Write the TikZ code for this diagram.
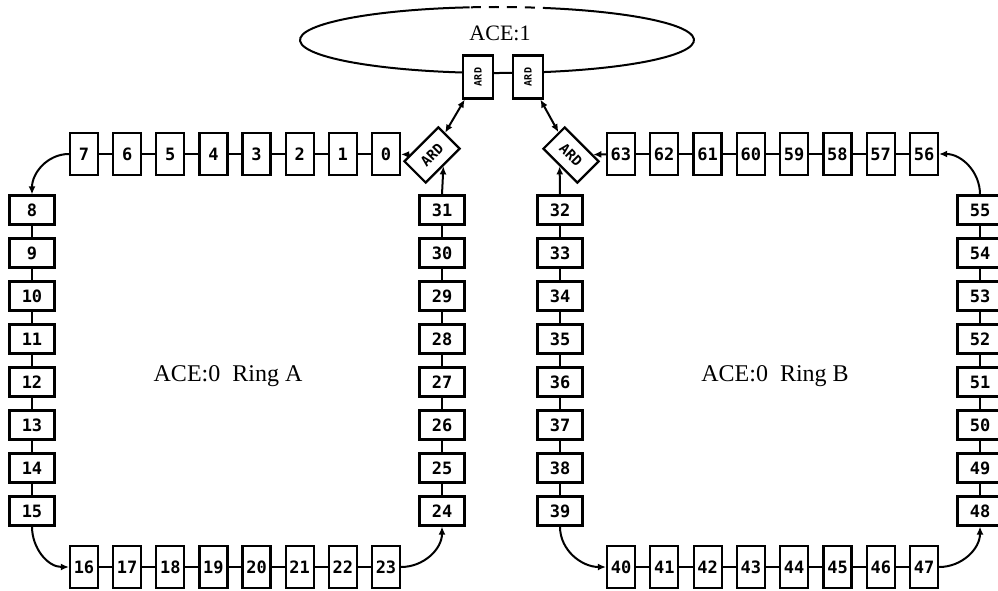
\documentclass[tikz,border=0pt]{standalone}
\usepackage{fontspec}
\setmainfont{Liberation Serif}
\setmonofont{DejaVu Sans Mono}
\usetikzlibrary{arrows.meta,calc}
\tikzset{
  ace/hbox/.style={
    draw,
    line width=2.2pt,
    fill=white,
    inner sep=0pt,
    minimum width=28pt,
    minimum height=42pt,
    font=\ttfamily\bfseries\fontsize{17}{17}\selectfont
  },
  ace/vbox/.style={
    draw,
    line width=2.2pt,
    fill=white,
    inner sep=0pt,
    minimum width=45pt,
    minimum height=29pt,
    font=\ttfamily\bfseries\fontsize{17}{17}\selectfont
  },
  ace/ard/.style={
    draw,
    line width=2.2pt,
    fill=white,
    inner sep=0pt,
    rotate=90,
    minimum width=43pt,
    minimum height=30pt,
    font=\ttfamily\bfseries\fontsize{10}{10}\selectfont
  },
  ace/diamond/.style={
    draw,
    line width=2.2pt,
    fill=white,
    inner sep=0pt,
    minimum width=48pt,
    minimum height=30pt,
    font=\ttfamily\bfseries\fontsize{14}{14}\selectfont
  },
  ace/link/.style={line width=2pt},
  ace/arrow/.style={-{Latex[length=8pt,width=7pt]}, line width=2pt},
  ace/dblarrow/.style={{Latex[length=8pt,width=7pt]}-{Latex[length=8pt,width=7pt]}, line width=2pt},
  ace/title/.style={font=\fontsize{22}{22}\selectfont}
}

\begin{document}
\begin{tikzpicture}[x=1pt,y=1pt]
  \useasboundingbox (0,-591) rectangle (998,0);
  % ACE:1 ring
  \draw[ace/link] (497,-40) ++(98:197 and 33)
    arc[start angle=98, end angle=433.5, x radius=197, y radius=33];
  \draw[ace/link, dash pattern=on 10pt off 8pt] (497,-40) ++(73.5:197 and 33)
    arc[start angle=73.5, end angle=98, x radius=197, y radius=33];
  \node[ace/title] (ace1) at (500,-33) {ACE:1};
  \node[ace/ard] (aceL) at (478,-77) {ARD};
  \node[ace/ard] (aceR) at (528,-77) {ARD};

  % ring A
  \foreach \i in {0,...,7}
  {\node[ace/hbox] (n\i) at ({386-43.14*\i},-154) {\i};}
  \foreach \i in {8,...,15}
  {\node[ace/vbox] (n\i) at (32,{-210-43*(\i-8)}) {\i};}
  \foreach \i in {16,...,23}
  {\node[ace/hbox] (n\i) at ({84+43.14*(\i-16)},-567) {\i};}
  \foreach \i in {24,...,31}
  {\node[ace/vbox] (n\i) at (442,{-511+43*(\i-24)}) {\i};}

  % ring B
  \foreach \i in {32,...,39}
  {\node[ace/vbox] (n\i) at (560,{-210-43*(\i-32)}) {\i};}
  \foreach \i in {40,...,47}
  {\node[ace/hbox] (n\i) at ({621+43.3*(\i-40)},-567) {\i};}
  \foreach \i in {48,...,55}
  {\node[ace/vbox] (n\i) at (980,{-511+43*(\i-48)}) {\i};}
  \foreach \i in {56,...,63}
  {\node[ace/hbox] (n\i) at ({924-43.3*(\i-56)},-154) {\i};}

  \node[ace/diamond, rotate=45] (ardL) at (432,-155) {ARD};
  \node[ace/diamond, rotate=-45] (ardR) at (571,-155) {ARD};

  % links inside each side
  \foreach \s in {0,8,...,56}
    \foreach \k in {0,...,6}
    {\pgfmathtruncatemacro\a{\s+\k}
     \pgfmathtruncatemacro\b{\s+\k+1}
     \draw[ace/link] (n\a) -- (n\b);}

  % corners
  \draw[ace/arrow] (n7.west) to[out=180,in=90] (n8.north);
  \draw[ace/arrow] (n15.south) to[out=-90,in=180] (n16.west);
  \draw[ace/arrow] (n23.east) to[out=0,in=-90] (n24.south);
  \draw[ace/arrow] (n39.south) to[out=-90,in=180] (n40.west);
  \draw[ace/arrow] (n47.east) to[out=0,in=-90] (n48.south);
  \draw[ace/arrow] (n55.north) to[out=90,in=0] (n56.east);

  % routers
  \draw[ace/arrow] (ardL) -- (n0);
  \draw[ace/arrow] (n31.north) -- (ardL.south);
  \draw[ace/arrow] (n63) -- (ardR);
  \draw[ace/arrow] (n32.north) -- (ardR.south);
  \draw[ace/dblarrow] (aceL) -- (ardL);
  \draw[ace/dblarrow] (aceR) -- (ardR);

  \node[ace/title, font=\fontsize{24}{24}\selectfont] (ringA) at (228,-376) {ACE:0~~Ring A};
  \node[ace/title, font=\fontsize{24}{24}\selectfont] (ringB) at (775,-376) {ACE:0~~Ring B};
\end{tikzpicture}
\end{document}
